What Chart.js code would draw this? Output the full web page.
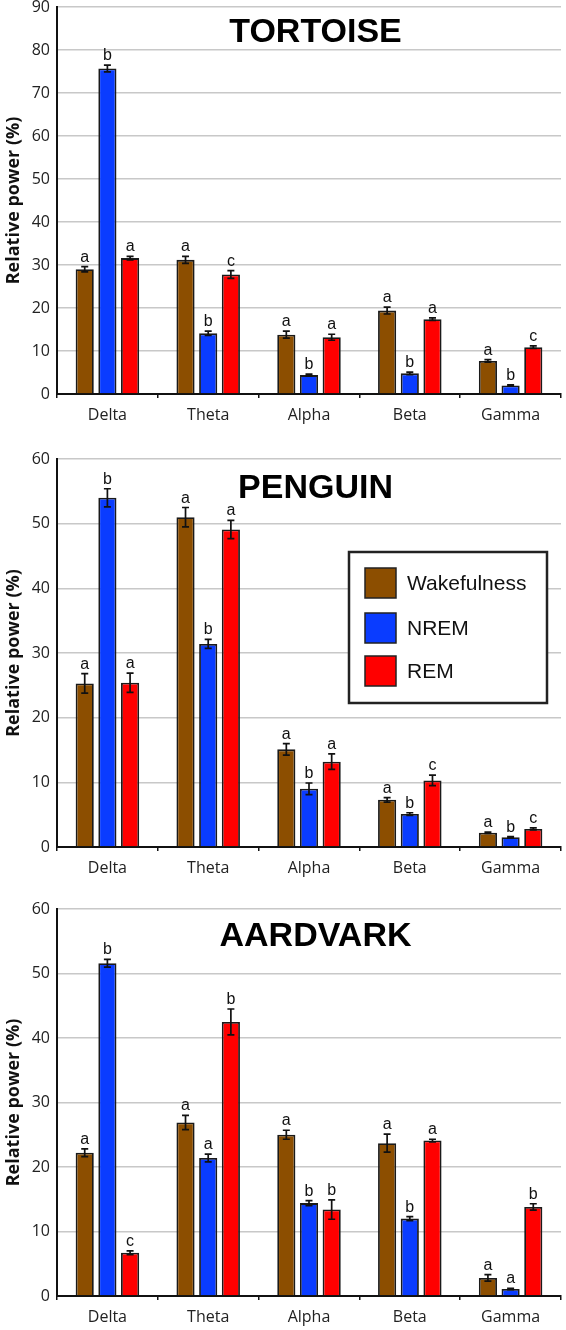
<!DOCTYPE html>
<html>
<head>
<meta charset="utf-8">
<script src="https://cdn.jsdelivr.net/npm/chart.js@4.4.0/dist/chart.umd.min.js"></script>
<style>
  html, body { margin: 0; padding: 0; background: #fff; }
  canvas { display: block; }
</style>
</head>
<body>
<canvas id="tortoise" width="566" height="440"></canvas>
<canvas id="penguin" width="566" height="450"></canvas>
<canvas id="aardvark" width="566" height="440"></canvas>
<script>
// EEG bands and sleep states
const bands = ['Delta', 'Theta', 'Alpha', 'Beta', 'Gamma'];
const states = ['Wakefulness', 'NREM', 'REM'];
const stateColors = ['#8c4e00', '#0a3cff', '#ff0000'];

// tortoise
const tortoiseWake = [29.0, 31.2, 13.8, 19.4, 7.7];
const tortoiseNrem = [75.7, 14.1, 4.4, 4.8, 2.0];
const tortoiseRem = [31.6, 27.8, 13.2, 17.4, 10.9];
const tortoiseWakeErr = [0.6, 0.8, 0.8, 0.8, 0.3];
const tortoiseNremErr = [0.8, 0.5, 0.2, 0.3, 0.15];
const tortoiseRemErr = [0.4, 0.9, 0.7, 0.3, 0.3];
const tortoiseWakeSig = ['a', 'a', 'a', 'a', 'a'];
const tortoiseNremSig = ['b', 'b', 'b', 'b', 'b'];
const tortoiseRemSig = ['a', 'c', 'a', 'a', 'c'];
const tortoiseTicks = [0, 10, 20, 30, 40, 50, 60, 70, 80, 90];

// penguin
const penguinWake = [25.3, 51.0, 15.1, 7.3, 2.2];
const penguinNrem = [54.0, 31.4, 9.0, 5.1, 1.5];
const penguinRem = [25.4, 49.1, 13.2, 10.3, 2.8];
const penguinWakeErr = [1.5, 1.5, 0.9, 0.35, 0.1];
const penguinNremErr = [1.4, 0.7, 0.9, 0.2, 0.1];
const penguinRemErr = [1.5, 1.4, 1.2, 0.8, 0.15];
const penguinWakeSig = ['a', 'a', 'a', 'a', 'a'];
const penguinNremSig = ['b', 'b', 'b', 'b', 'b'];
const penguinRemSig = ['a', 'a', 'a', 'c', 'c'];
const penguinTicks = [0, 10, 20, 30, 40, 50, 60];

// aardvark
const aardvarkWake = [22.2, 26.9, 25.0, 23.7, 2.8];
const aardvarkNrem = [51.6, 21.4, 14.4, 12.0, 1.1];
const aardvarkRem = [6.7, 42.5, 13.4, 24.1, 13.8];
const aardvarkWakeErr = [0.6, 1.1, 0.7, 1.4, 0.5];
const aardvarkNremErr = [0.6, 0.6, 0.4, 0.3, 0.1];
const aardvarkRemErr = [0.3, 2.0, 1.5, 0.2, 0.5];
const aardvarkWakeSig = ['a', 'a', 'a', 'a', 'a'];
const aardvarkNremSig = ['b', 'a', 'b', 'b', 'a'];
const aardvarkRemSig = ['c', 'b', 'b', 'a', 'b'];
const aardvarkTicks = [0, 10, 20, 30, 40, 50, 60];

Chart.defaults.font.family = "'Open Sans', sans-serif";
Chart.defaults.color = '#222';

// error bars + significance letters above each bar
const errorBarPlugin = {
  id: 'errorBars',
  afterDatasetsDraw(chart) {
    const ctx = chart.ctx;
    const y = chart.scales.y;
    ctx.save();
    ctx.strokeStyle = '#111';
    ctx.lineWidth = 1.7;
    ctx.fillStyle = '#111';
    ctx.font = "16px 'Liberation Sans', Arial, sans-serif";
    ctx.textAlign = 'center';
    ctx.textBaseline = 'alphabetic';
    chart.data.datasets.forEach((ds, di) => {
      const meta = chart.getDatasetMeta(di);
      meta.data.forEach((bar, i) => {
        const v = ds.data[i];
        const e = ds.errors[i];
        const top = y.getPixelForValue(v + e);
        const bot = y.getPixelForValue(v - e);
        ctx.beginPath();
        ctx.moveTo(bar.x, top);
        ctx.lineTo(bar.x, bot);
        ctx.moveTo(bar.x - 3.5, top);
        ctx.lineTo(bar.x + 3.5, top);
        ctx.moveTo(bar.x - 3.5, bot);
        ctx.lineTo(bar.x + 3.5, bot);
        ctx.stroke();
        ctx.fillText(ds.letters[i], bar.x, top - 5);
      });
    });
    ctx.restore();
  }
};

// big title drawn inside the plot area
const panelTitlePlugin = {
  id: 'panelTitle',
  afterDraw(chart, args, opts) {
    const a = chart.chartArea;
    const ctx = chart.ctx;
    ctx.save();
    ctx.font = "bold 34px 'Liberation Sans', Arial, sans-serif";
    ctx.fillStyle = '#000';
    ctx.textAlign = 'center';
    ctx.textBaseline = 'alphabetic';
    ctx.fillText(opts.text, (a.left + a.right) / 2 + 6.5, a.top + opts.dy + 12);
    ctx.restore();
  }
};

// boxed legend (penguin panel only)
const boxLegendPlugin = {
  id: 'boxLegend',
  afterDraw(chart, args, opts) {
    if (!opts.show) return;
    const a = chart.chartArea;
    const ctx = chart.ctx;
    const bx = a.left + 292, by = a.top + 93, bw = 198, bh = 151;
    ctx.save();
    ctx.fillStyle = '#fff';
    ctx.fillRect(bx, by, bw, bh);
    ctx.lineWidth = 2.5;
    ctx.strokeStyle = '#222';
    ctx.strokeRect(bx, by, bw, bh);
    const rows = [16, 61, 104];
    ctx.font = "21px 'Liberation Sans', Arial, sans-serif";
    ctx.textAlign = 'left';
    ctx.textBaseline = 'middle';
    chart.data.datasets.forEach((ds, i) => {
      ctx.fillStyle = ds.backgroundColor;
      ctx.fillRect(bx + 16, by + rows[i], 31, 30);
      ctx.lineWidth = 1.5;
      ctx.strokeStyle = '#222';
      ctx.strokeRect(bx + 16, by + rows[i], 31, 30);
      ctx.fillStyle = '#111';
      ctx.fillText(ds.label, bx + 58, by + rows[i] + 16);
    });
    ctx.restore();
  }
};

function makePanel(id, wake, nrem, rem, errs, sigs, ticks, title, titleDy, pad, showLegend) {
  const vals = [wake, nrem, rem];
  const datasets = states.map((s, i) => ({
    label: s,
    data: vals[i],
    errors: errs[i],
    letters: sigs[i],
    backgroundColor: stateColors[i],
    borderColor: '#1a1a1a',
    borderWidth: 1.8,
    categoryPercentage: 0.675,
    barPercentage: 0.8
  }));
  return new Chart(document.getElementById(id), {
    type: 'bar',
    data: { labels: bands, datasets: datasets },
    options: {
      responsive: false,
      animation: false,
      layout: { padding: { top: pad[0], right: 5, bottom: pad[1], left: 0 } },
      plugins: {
        legend: { display: false },
        tooltip: { enabled: false },
        panelTitle: { text: title, dy: titleDy },
        boxLegend: { show: showLegend }
      },
      scales: {
        x: {
          grid: { drawOnChartArea: false, drawTicks: true, tickLength: 4, color: '#111', lineWidth: 1.5 },
          border: { display: true, color: '#111', width: 2 },
          ticks: { font: { size: 16 }, padding: 8, color: '#222' },
          afterFit(scale) { scale.height = 30; scale.paddingLeft = 0; scale.paddingRight = 0; }
        },
        y: {
          min: ticks[0],
          max: ticks[ticks.length - 1],
          afterBuildTicks(scale) { scale.ticks = ticks.map(v => ({ value: v })); },
          grid: {
            drawTicks: false,
            lineWidth: 1.5,
            color: c => (c.tick && c.tick.value === 0 ? '#111' : '#c8c8c8')
          },
          border: { display: true, color: '#111', width: 2 },
          ticks: { font: { size: 16 }, padding: 7, color: '#222' },
          title: {
            display: true,
            text: 'Relative power (%)',
            font: { size: 18, weight: 'bold' },
            color: '#111',
            padding: { top: 3, bottom: 0 }
          },
          afterFit(scale) { scale.width = 57; scale.paddingTop = 0; scale.paddingBottom = 0; }
        }
      }
    },
    plugins: [errorBarPlugin, panelTitlePlugin, boxLegendPlugin]
  });
}

makePanel('tortoise', tortoiseWake, tortoiseNrem, tortoiseRem,
  [tortoiseWakeErr, tortoiseNremErr, tortoiseRemErr],
  [tortoiseWakeSig, tortoiseNremSig, tortoiseRemSig],
  tortoiseTicks, 'TORTOISE', 23, [7, 16], false);

makePanel('penguin', penguinWake, penguinNrem, penguinRem,
  [penguinWakeErr, penguinNremErr, penguinRemErr],
  [penguinWakeSig, penguinNremSig, penguinRemSig],
  penguinTicks, 'PENGUIN', 27, [19, 13], true);

makePanel('aardvark', aardvarkWake, aardvarkNrem, aardvarkRem,
  [aardvarkWakeErr, aardvarkNremErr, aardvarkRemErr],
  [aardvarkWakeSig, aardvarkNremSig, aardvarkRemSig],
  aardvarkTicks, 'AARDVARK', 25, [19, 4], false);
</script>
</body>
</html>
